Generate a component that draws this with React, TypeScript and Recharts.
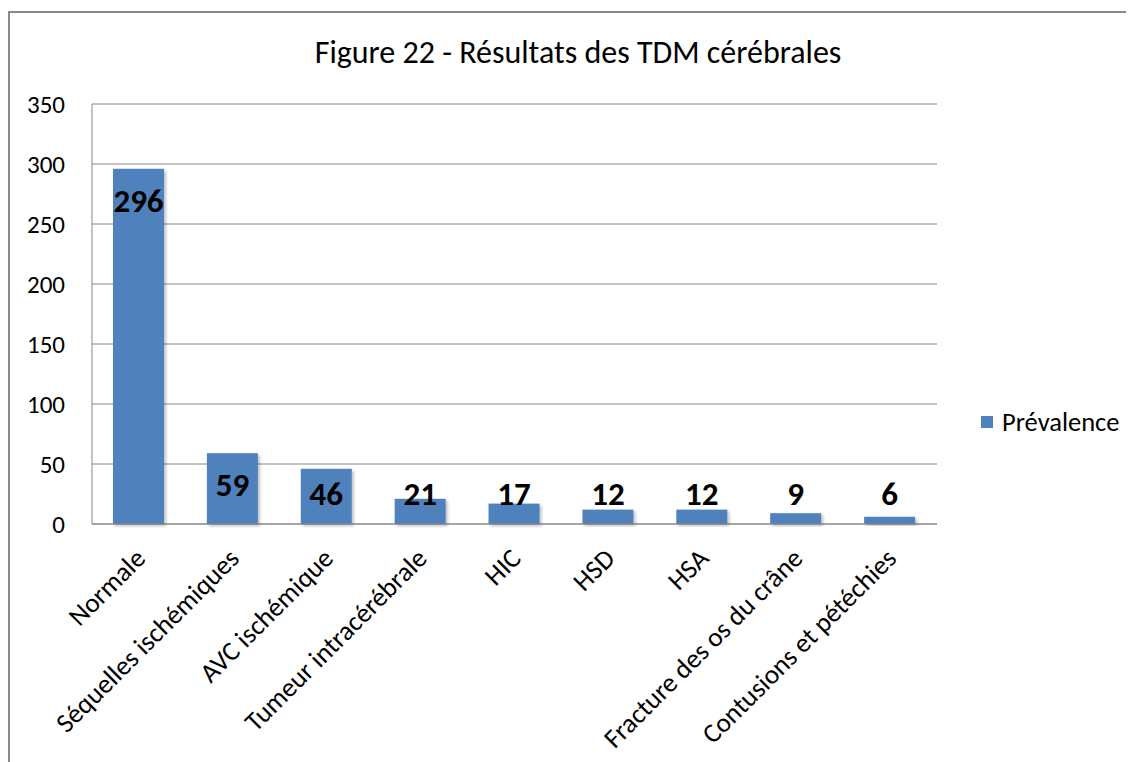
import React from "react"
import {
  BarChart,
  Bar,
  XAxis,
  YAxis,
  CartesianGrid,
  LabelList
} from "recharts"

// data
const categories = [
  "Normale",
  "Séquelles ischémiques",
  "AVC ischémique",
  "Tumeur intracérébrale",
  "HIC",
  "HSD",
  "HSA",
  "Fracture des os du crâne",
  "Contusions et pétéchies"
]
const prevalence = [296, 59, 46, 21, 17, 12, 12, 9, 6]
const yTicks = [0, 50, 100, 150, 200, 250, 300, 350]
const seriesName = "Prévalence"
const title = "Figure 22 - Résultats des TDM cérébrales"

const data = categories.map((c, i) => ({ name: c, value: prevalence[i] }))

const FONT = "Carlito, Calibri, Lato, sans-serif"
const BLUE = "#4F81BD"
const GRID = "#868686"

const XTick = (props: any) => {
  const { x, y, payload } = props
  return (
    <g transform={`translate(${x + 8},${y + 36}) rotate(-45)`}>
      <text x={0} y={0} textAnchor="end" fill="#000" fontSize={27} fontFamily={FONT}>
        {payload.value}
      </text>
    </g>
  )
}

const BarShape = (props: any) => {
  const { x, y, width, height } = props
  if (!height || height <= 0) return null
  return (
    <rect x={x} y={y} width={width} height={height} fill={BLUE} filter="url(#barShadow)" />
  )
}

const ValueLabel = (props: any) => {
  const { x, y, width, height, value } = props
  const cy = Math.min(y + 32, y + height - 30)
  return (
    <text
      x={x + width / 2}
      y={cy}
      textAnchor="middle"
      dominantBaseline="central"
      fontSize={33}
      fontWeight="bold"
      fontFamily={FONT}
      fill="#000"
    >
      {value}
    </text>
  )
}

export default function App() {
  return (
    <div style={{ position: "relative", width: 1126, height: 754, overflow: "hidden", background: "#fff" }}>

      {/* outer frame */}
      <div
        style={{
          position: "absolute",
          top: 3,
          left: 0,
          width: 1200,
          height: 900,
          border: "2px solid #8a8a8a",
          boxSizing: "border-box"
        }}
      />

      {/* title */}
      <div
        style={{
          position: "absolute",
          top: 25,
          left: 0,
          width: 1140,
          textAlign: "center",
          fontFamily: FONT,
          fontSize: 32,
          lineHeight: "40px",
          color: "#000"
        }}
      >
        {title}
      </div>

      {/* legend */}
      <div
        style={{
          position: "absolute",
          left: 973,
          top: 396,
          display: "flex",
          alignItems: "center",
          fontFamily: FONT,
          fontSize: 26.5,
          lineHeight: "36px"
        }}
      >
        <span style={{ width: 12, height: 12, background: BLUE, display: "inline-block", marginRight: 9 }} />
        <span>{seriesName}</span>
      </div>

      <div style={{ position: "absolute", top: 0, left: 0 }}>
        <BarChart
          width={1126}
          height={754}
          data={data}
          margin={{ top: 96, right: 197, left: 0, bottom: 0 }}
        >
          <defs>
            <filter id="barShadow" x="-20%" y="-20%" width="140%" height="140%">
              <feDropShadow dx="2" dy="2" stdDeviation="1.5" floodColor="#000" floodOpacity="0.25" />
            </filter>
          </defs>

          <CartesianGrid vertical={false} stroke={GRID} strokeWidth={1} />

          <XAxis
            dataKey="name"
            height={238}
            interval={0}
            axisLine={{ stroke: GRID }}
            tickLine={false}
            tickSize={0}
            tickMargin={0}
            tick={<XTick />}
          />
          <YAxis
            width={84}
            domain={[0, 350]}
            ticks={yTicks}
            axisLine={{ stroke: GRID }}
            tickLine={false}
            tickSize={0}
            tickMargin={27}
            tick={{ fill: "#000", fontSize: 25, fontFamily: FONT }}
          />

          <Bar
            dataKey="value"
            name={seriesName}
            barSize={51}
            shape={<BarShape />}
            isAnimationActive={false}
          >
            <LabelList dataKey="value" content={<ValueLabel />} />
          </Bar>
        </BarChart>
      </div>
    </div>
  )
}
